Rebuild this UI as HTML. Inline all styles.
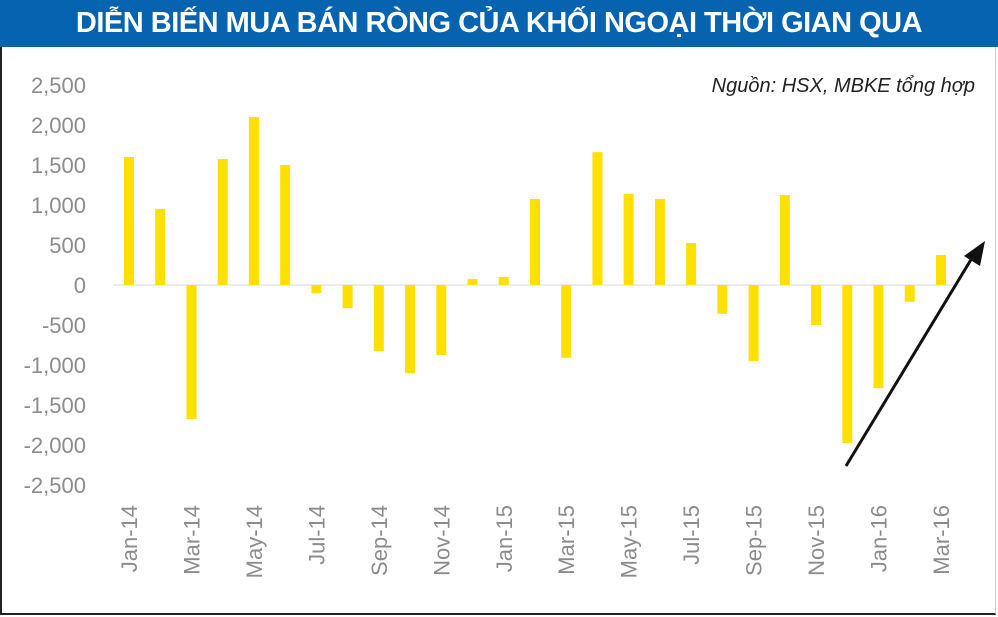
<!DOCTYPE html>
<html><head><meta charset="utf-8"><style>
body{margin:0;width:998px;height:617px;overflow:hidden;background:#fff;font-family:"Liberation Sans",sans-serif}
#hdr{position:absolute;left:0;top:0;width:998px;height:47px;background:#0563b0;color:#fff;font:bold 29px "Liberation Sans Narrow","Liberation Sans",sans-serif;text-align:center;line-height:46px;letter-spacing:-0.5px}
#frame{position:absolute;left:0;top:47px;width:996px;height:568px;border-left:2px solid #222;border-bottom:2px solid #222;border-right:1px solid #ccc;box-sizing:border-box}
</style></head><body>
<div id="hdr">DIỄN BIẾN MUA BÁN RÒNG CỦA KHỐI NGOẠI THỜI GIAN QUA</div>
<div id="frame"></div>
<svg id="chart" width="998" height="617" style="position:absolute;left:0;top:0">
<text x="975" y="92" text-anchor="end" font-size="20" font-style="italic" fill="#222" font-family="Liberation Sans Narrow, Liberation Sans, sans-serif">Nguồn:  HSX, MBKE tổng hợp</text>
</svg>
<script>
const categories=["Jan-14","Feb-14","Mar-14","Apr-14","May-14","Jun-14","Jul-14","Aug-14","Sep-14","Oct-14","Nov-14","Dec-14","Jan-15","Feb-15","Mar-15","Apr-15","May-15","Jun-15","Jul-15","Aug-15","Sep-15","Oct-15","Nov-15","Dec-15","Jan-16","Feb-16","Mar-16"];
const values=[1600,950,-1675,1575,2100,1500,-100,-290,-825,-1100,-875,75,100,1075,-910,1660,1140,1075,525,-360,-950,1125,-500,-1975,-1290,-210,375];
const yTicks=[2500,2000,1500,1000,500,0,-500,-1000,-1500,-2000,-2500];
const ns="http://www.w3.org/2000/svg";
const svg=document.getElementById('chart');
const y=v=>285-v*0.08;
const x=i=>129+i*31.23;
const fmt=v=>(v<0?'-':'')+String(Math.abs(v)).replace(/\B(?=(\d{3})+(?!\d))/g,',');
function mk(t,a){const e=document.createElementNS(ns,t);for(const k in a)e.setAttribute(k,a[k]);svg.appendChild(e);return e;}
const zl=mk('line',{x1:113,x2:960,y1:y(0),y2:y(0),stroke:'#d9d9d9','stroke-width':1});


yTicks.forEach(t=>{
 const e=mk('text',{x:86,y:y(t)+8,'text-anchor':'end','font-size':22,fill:'#8c8c8c'});
 e.textContent=fmt(t);
 
 
});
values.forEach((v,i)=>{
 const r=mk('rect',{x:x(i)-5,y:Math.min(y(v),y(0)),width:10,height:Math.abs(y(v)-y(0)),fill:'#ffe000'});
 
 
});
categories.forEach((c,i)=>{
 if(i%2)return;
 const e=mk('text',{x:0,y:0,'text-anchor':'end','font-size':22,fill:'#8c8c8c',transform:`translate(${x(i)+8},505) rotate(-90)`});
 e.textContent=c;
 
 
});
const ar=mk('line',{x1:846,y1:466,x2:975,y2:253,stroke:'#111','stroke-width':3});


const ah=mk('polygon',{points:'985,241 964,256 980,266',fill:'#111'});


</script>
</body></html>
